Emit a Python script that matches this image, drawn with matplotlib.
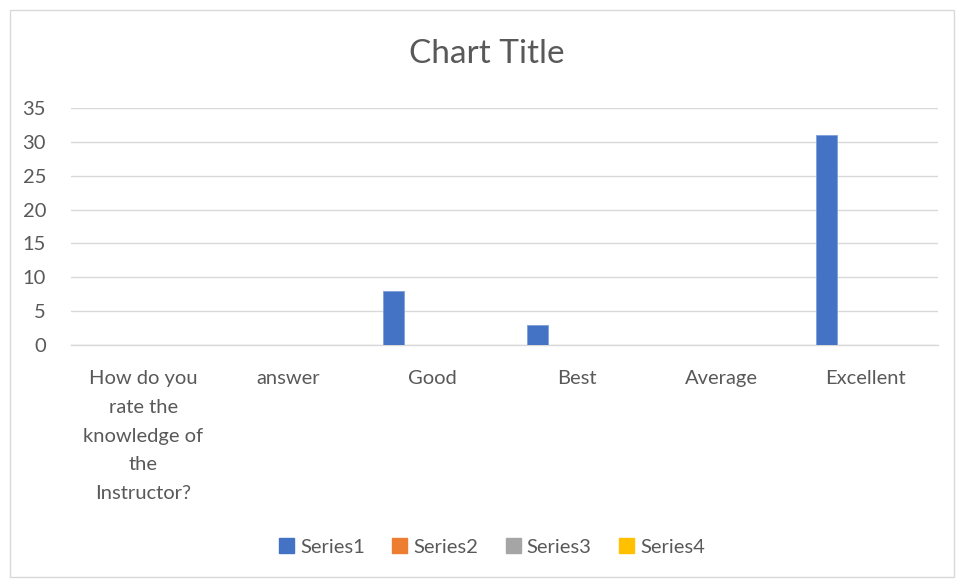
import matplotlib.pyplot as plt
import matplotlib.patches as mpatches
import numpy as np

plt.rcParams['font.family'] = ['Lato', 'DejaVu Sans']

# Data
categories = ['How do you\nrate the\nknowledge of\nthe\nInstructor?', 'answer', 'Good', 'Best', 'Average', 'Excellent']
series_names = ['Series1', 'Series2', 'Series3', 'Series4']
series1 = [0, 0, 8, 3, 0, 31]
series2 = [0, 0, 0, 0, 0, 0]
series3 = [0, 0, 0, 0, 0, 0]
series4 = [0, 0, 0, 0, 0, 0]
colors = ['#4472C4', '#ED7D31', '#A5A5A5', '#FFC000']
yticks = [0, 5, 10, 15, 20, 25, 30, 35]

text_color = '#595959'
grid_color = '#D9D9D9'

fig = plt.figure(figsize=(9.57, 5.79), dpi=100)
ax = fig.add_axes([71 / 957, 1 - 345 / 579, (938 - 71) / 957, (345 - 108) / 579])

# light border around the chart area
fig.patches.append(mpatches.Rectangle((10 / 957, 2 / 579), 944 / 957, 567 / 579,
                                      transform=fig.transFigure, fill=False,
                                      edgecolor=grid_color, linewidth=1))

x = np.arange(len(categories))
width = 0.145
offsets = [-0.27, -0.09, 0.09, 0.27]
all_series = [series1, series2, series3, series4]

for vals, off, col, name in zip(all_series, offsets, colors, series_names):
    ax.bar(x + off, vals, width, color=col, label=name, edgecolor='#7F9FD9' if col == '#4472C4' else col,
           linewidth=0.6, zorder=3)

ax.set_xlim(-0.5, len(categories) - 0.5)
ax.set_ylim(0, 35)
ax.set_yticks(yticks)
ax.set_xticks(x)
ax.set_xticklabels(categories, linespacing=1.84, va='top')
ax.tick_params(axis='both', length=0, colors=text_color, labelsize=14.5)
ax.tick_params(axis='y', pad=18)
ax.tick_params(axis='x', pad=18)

ax.grid(axis='y', color=grid_color, linewidth=1, zorder=0)
for side in ['top', 'right', 'left']:
    ax.spines[side].set_visible(False)
ax.spines['bottom'].set_color(grid_color)
ax.spines['bottom'].set_linewidth(1)

fig.text(487 / 957, 1 - 54 / 579, 'Chart Title', ha='center', va='center', fontsize=24, color=text_color)

handles = [mpatches.Patch(color=c) for c in colors]
fig.legend(handles, series_names, loc='center', bbox_to_anchor=(492 / 957, 1 - 547 / 579), ncol=4,
           frameon=False, fontsize=14.5, labelcolor=text_color, handlelength=0.75, handleheight=0.75,
           handletextpad=0.3, columnspacing=1.35)

fig.savefig('out.png', dpi=100)
